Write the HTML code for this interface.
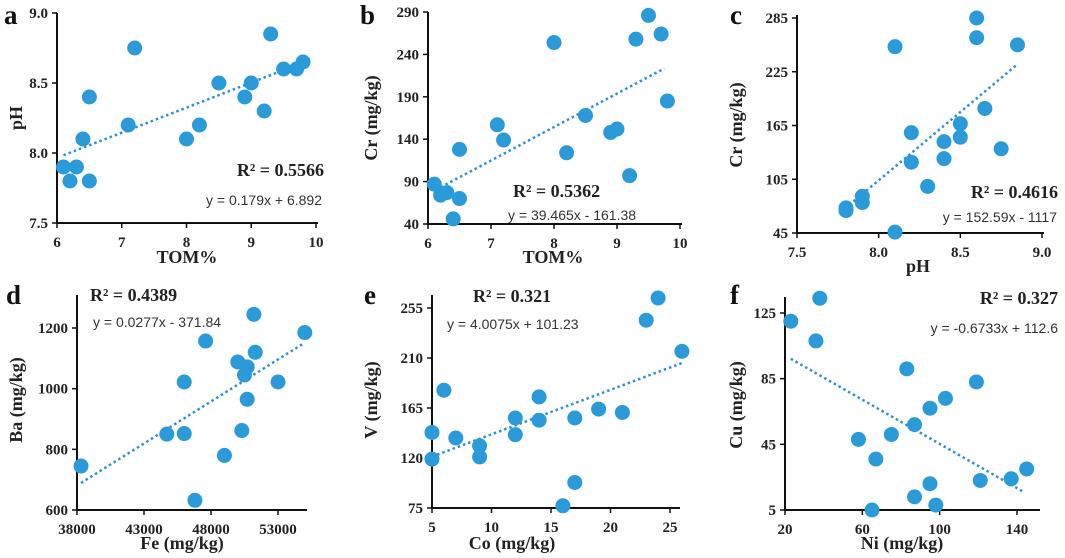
<!DOCTYPE html>
<html><head><meta charset="utf-8"><style>
html,body{margin:0;padding:0;background:#fff}
svg{display:block}
.tk{font:bold 15px "Liberation Serif",serif;fill:#222}
.ti{font:bold 18px "Liberation Serif",serif;fill:#222}
.lt{font:bold 27px "Liberation Serif",serif;fill:#111}
.r2{font:bold 18px "Liberation Serif",serif;fill:#222}
.eq{font:14px "Liberation Sans",sans-serif;fill:#333}
</style></head><body>
<svg id="chart" width="1065" height="558" viewBox="0 0 1065 558"></svg>
<script>
const aX=[6.1,6.2,6.3,6.5,6.4,6.5,7.1,7.2,8.0,8.2,8.5,8.9,9.0,9.2,9.3,9.5,9.7,9.8];
const aY=[7.9,7.8,7.9,7.8,8.1,8.4,8.2,8.75,8.1,8.2,8.5,8.4,8.5,8.3,8.85,8.6,8.6,8.65];
const bX=[6.1,6.2,6.3,6.5,6.4,6.5,7.1,7.2,8.0,8.2,8.5,8.9,9.0,9.2,9.3,9.5,9.7,9.8];
const bY=[87,74,77,70,46,128,157,139,254,124,168,148,152,97,258,286,264,185];
const cX=[7.8,7.8,7.9,7.9,8.1,8.1,8.2,8.2,8.3,8.4,8.4,8.5,8.5,8.6,8.6,8.65,8.75,8.85];
const cY=[73,70,86,79,46,253,157,124,97,147,128,167,152,285,263,184,139,255];
const dX=[38300,44700,46000,46000,46800,47600,49000,50000,50300,50500,50700,50700,51200,51300,53000,55000];
const dY=[745,850,1022,852,632,1157,780,1088,862,1045,1072,965,1245,1120,1022,1185];
const eX=[5,5,6,7,9,9,12,12,14,14,16,17,17,19,21,23,24,26];
const eY=[143,119,181,138,131,121,156,141,175,154,77,156,98,164,161,244,264,216];
const fX=[23,38,36,58,67,65,75,83,87,87,95,95,98,103,119,121,137,145];
const fY=[120,134,108,48,36,5,51,91,57,13,67,21,8,73,83,23,24,30];
const aXT=[6,7,8,9,10], aYT=["7.5","8.0","8.5","9.0"];
const bXT=[6,7,8,9,10], bYT=[40,90,140,190,240,290];
const cXT=["7.5","8.0","8.5","9.0"], cYT=[45,105,165,225,285];
const dXT=[38000,43000,48000,53000], dYT=[600,800,1000,1200];
const eXT=[5,10,15,20,25], eYT=[75,120,165,210,255];
const fXT=[20,60,100,140], fYT=[5,45,85,125];
const slopes=[0.179,39.465,152.59,0.0277,4.0075,-0.6733];
const intercepts=[6.892,-161.38,-1117,-371.84,101.23,112.6];
const trendRange=[[6.1,9.75],[6.2,9.75],[7.82,8.85],[38300,55000],[5,26],[23,143]];

const NS="http://www.w3.org/2000/svg";
const svg=document.getElementById('chart');
function mk(t,a,p){const e=document.createElementNS(NS,t);for(const k in a)e.setAttribute(k,a[k]);(p||svg).appendChild(e);return e;}

const panels=[
 {id:'a',X:aX,Y:aY,xt:aXT,yt:aYT,x0:6,x1:10,y0:7.5,y1:9.0,px0:57,px1:316,py0:223,py1:13,axR:318,axT:13,xl:'TOM%',yl:'pH',xlx:187,xly:263,ylx:22,yly:118,let:[4,24],r2:['R² = 0.5566',324,176,'end'],eq:['y = 0.179x + 6.892',322,205,'end']},
 {id:'b',X:bX,Y:bY,xt:bXT,yt:bYT,x0:6,x1:10,y0:40,y1:290,px0:428,px1:680,py0:224,py1:12,axR:682,axT:12,xl:'TOM%',yl:'Cr (mg/kg)',xlx:553,xly:263,ylx:377,yly:118,let:[360,24],r2:['R² = 0.5362',513,197,'start'],eq:['y = 39.465x - 161.38',508,220,'start']},
 {id:'c',X:cX,Y:cY,xt:cXT,yt:cYT,x0:7.5,x1:9.0,y0:45,y1:285,px0:797,px1:1042,py0:233,py1:18,axR:1044,axT:15,xl:'pH',yl:'Cr (mg/kg)',xlx:918,xly:272,ylx:742,yly:125,let:[730,24],r2:['R² = 0.4616',1058,198,'end'],eq:['y = 152.59x - 1117',1057,222,'end']},
 {id:'d',X:dX,Y:dY,xt:dXT,yt:dYT,x0:38000,x1:53000,y0:600,y1:1200,px0:77,px1:278,py0:510,py1:328,axR:307,axT:295,xl:'Fe (mg/kg)',yl:'Ba (mg/kg)',xlx:182,xly:549,ylx:22,yly:400,let:[6,304],r2:['R² = 0.4389',90,301,'start'],eq:['y = 0.0277x - 371.84',93,327,'start']},
 {id:'e',X:eX,Y:eY,xt:eXT,yt:eYT,x0:5,x1:25,y0:75,y1:255,px0:432,px1:670,py0:508,py1:308,axR:680,axT:295,xl:'Co (mg/kg)',yl:'V (mg/kg)',xlx:512,xly:549,ylx:377,yly:400,let:[364,304],r2:['R² = 0.321',473,302,'start'],eq:['y = 4.0075x + 101.23',447,329,'start']},
 {id:'f',X:fX,Y:fY,xt:fXT,yt:fYT,x0:20,x1:140,y0:5,y1:125,px0:785,px1:1017,py0:510,py1:313,axR:1040,axT:297,xl:'Ni (mg/kg)',yl:'Cu (mg/kg)',xlx:902,xly:549,ylx:742,yly:405,let:[730,304],r2:['R² = 0.327',1058,304,'end'],eq:['y = -0.6733x + 112.6',1058,333,'end']}
];

panels.forEach((p,i)=>{
 const g=mk('g',{});
 
 
 const sx=v=>p.px0+(v-p.x0)/(p.x1-p.x0)*(p.px1-p.px0);
 const sy=v=>p.py0+(v-p.y0)/(p.y1-p.y0)*(p.py1-p.py0);
 const ax=mk('path',{d:`M${p.px0},${p.axT}V${p.py0}H${p.axR}`,fill:'none',stroke:'#111','stroke-width':2},g);
 
 
 p.xt.forEach(t=>{const x=sx(parseFloat(t));
  mk('line',{x1:x,x2:x,y1:p.py0,y2:p.py0+5,stroke:'#111','stroke-width':1.5},g);
  const tx=mk('text',{x:x,y:p.py0+24,'text-anchor':'middle',class:'tk'},g);tx.textContent=t;
  
  });
 p.yt.forEach(t=>{const y=sy(parseFloat(t));
  mk('line',{x1:p.px0-5,x2:p.px0,y1:y,y2:y,stroke:'#111','stroke-width':1.5},g);
  const tx=mk('text',{x:p.px0-9,y:y+5,'text-anchor':'end',class:'tk'},g);tx.textContent=t;
  
  });
 const [tx0,tx1]=trendRange[i];
 const tl=mk('line',{x1:sx(tx0),y1:sy(slopes[i]*tx0+intercepts[i]),x2:sx(tx1),y2:sy(slopes[i]*tx1+intercepts[i]),stroke:'#2f8fcf','stroke-width':2.5,'stroke-dasharray':'2.5 3'},g);
 
 
 p.X.forEach((v,j)=>{const c=mk('circle',{cx:sx(v),cy:sy(p.Y[j]),r:7.5,fill:'#2b9ad9'},g);
  
  });
 let t=mk('text',{x:p.xlx,y:p.xly,'text-anchor':'middle',class:'ti'},g);t.textContent=p.xl;
 
 
 t=mk('text',{x:p.ylx,y:p.yly,'text-anchor':'middle',class:'ti',transform:`rotate(-90 ${p.ylx} ${p.yly})`},g);t.textContent=p.yl;
 
 
 t=mk('text',{x:p.let[0],y:p.let[1],class:'lt'},g);t.textContent=p.id;
 
 
 t=mk('text',{x:p.r2[1],y:p.r2[2],'text-anchor':p.r2[3],class:'r2'},g);t.textContent=p.r2[0];
 
 
 t=mk('text',{x:p.eq[1],y:p.eq[2],'text-anchor':p.eq[3],class:'eq'},g);t.textContent=p.eq[0];
 
 
});
</script>
</body></html>
